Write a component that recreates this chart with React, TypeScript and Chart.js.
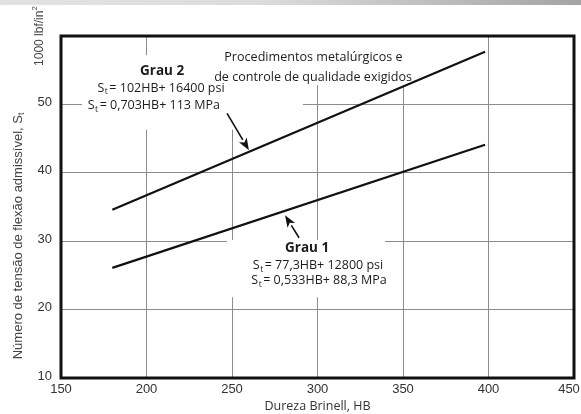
import React, { useEffect, useRef } from "react";
import { Chart, registerables } from "chart.js";

Chart.register(...registerables);

// ---- data ----
const hardness = [180, 398];
const grau2Values = [34.6, 57.7];
const grau1Values = [26.1, 44.1];
const xTickValues = [150, 200, 250, 300, 350, 400, 450];
const yTickValues = [10, 20, 30, 40, 50];
const xTitle = "Dureza Brinell, HB";
const yTitleMain = "Número de tensão de flexão admissível, S";
const yTitleUnit = "1000 lbf/in";
const procLines = ["Procedimentos metalúrgicos e", "de controle de qualidade exigidos"];
const grau2Label = "Grau 2";
const grau2Eqs = ["= 102HB+ 16400 psi", "= 0,703HB+ 113 MPa"];
const grau1Label = "Grau 1";
const grau1Eqs = ["= 77,3HB+ 12800 psi", "= 0,533HB+ 88,3 MPa"];

const ANNO_FONT = "'Open Sans', sans-serif";
const TICK_FONT = "'Liberation Sans', Arial, sans-serif";

function drawEq(ctx: CanvasRenderingContext2D, cx: number, cy: number, rest: string) {
  const big = `12.5px ${ANNO_FONT}`;
  const small = `8.5px ${ANNO_FONT}`;
  ctx.font = big;
  const wS = ctx.measureText("S").width;
  const wR = ctx.measureText(rest).width;
  ctx.font = small;
  const wT = ctx.measureText("t").width + 2;
  const total = wS + wT + wR;
  let x = cx - total / 2;
  ctx.textAlign = "left";
  ctx.textBaseline = "middle";
  ctx.font = big;
  ctx.fillText("S", x, cy);
  x += wS + 0.5;
  ctx.font = small;
  ctx.fillText("t", x, cy + 4);
  x += wT - 0.5;
  ctx.font = big;
  ctx.fillText(rest, x, cy);
}

function drawArrow(ctx: CanvasRenderingContext2D, x0: number, y0: number, x1: number, y1: number) {
  const ang = Math.atan2(y1 - y0, x1 - x0);
  const headLen = 12;
  const headW = 4.5;
  const bx = x1 - Math.cos(ang) * headLen;
  const by = y1 - Math.sin(ang) * headLen;
  ctx.strokeStyle = "#111";
  ctx.lineWidth = 1.6;
  ctx.beginPath();
  ctx.moveTo(x0, y0);
  ctx.lineTo(bx, by);
  ctx.stroke();
  ctx.fillStyle = "#111";
  ctx.beginPath();
  ctx.moveTo(x1, y1);
  ctx.lineTo(bx + Math.sin(ang) * headW, by - Math.cos(ang) * headW);
  ctx.lineTo(bx + Math.cos(ang) * 3, by + Math.sin(ang) * 3);
  ctx.lineTo(bx - Math.sin(ang) * headW, by + Math.cos(ang) * headW);
  ctx.closePath();
  ctx.fill();
}

const decorPlugin = {
  id: "decor",
  beforeDatasetsDraw(chart: any) {
    const { ctx } = chart;
    const xs = chart.scales.x;
    const ys = chart.scales.y;
    const box = (x0: number, x1: number, y0: number, y1: number) => {
      const px0 = xs.getPixelForValue(x0);
      const px1 = xs.getPixelForValue(x1);
      const py0 = ys.getPixelForValue(y0);
      const py1 = ys.getPixelForValue(y1);
      ctx.fillStyle = "#fff";
      ctx.fillRect(px0, py0, px1 - px0, py1 - py0);
    };
    ctx.save();
    box(244.2, 351.2, 60, 56.2);
    box(236.0, 357.6, 58.7, 52.8);
    box(162.3, 291.5, 57.2, 46.3);
    box(247.1, 339.5, 30.2, 21.8);
    ctx.restore();
  },
  afterDatasetsDraw(chart: any) {
    const { ctx, chartArea } = chart;
    const xs = chart.scales.x;
    const ys = chart.scales.y;
    const px = (v: number) => xs.getPixelForValue(v);
    const py = (v: number) => ys.getPixelForValue(v);
    ctx.save();
    // frame
    ctx.strokeStyle = "#111";
    ctx.lineWidth = 3;
    ctx.strokeRect(chartArea.left, chartArea.top, chartArea.right - chartArea.left, chartArea.bottom - chartArea.top);

    // arrows
    drawArrow(ctx, px(247.1), py(48.7), px(259.9), py(43.3));
    drawArrow(ctx, px(289.2), py(30.5), px(281.0), py(33.8));

    // annotation text
    ctx.fillStyle = "#1c1c1c";
    ctx.textAlign = "center";
    ctx.textBaseline = "middle";
    ctx.font = `12.6px ${ANNO_FONT}`;
    ctx.fillText(procLines[0], px(297.6), py(56.8));
    ctx.fillText(procLines[1], px(297.4), py(54.0));
    ctx.font = `bold 13.5px ${ANNO_FONT}`;
    ctx.fillText(grau2Label, px(209.1), py(54.9));
    ctx.fillText(grau1Label, px(293.9), py(29.0));
    drawEq(ctx, px(208.5), py(52.4), grau2Eqs[0]);
    drawEq(ctx, px(204.3), py(49.8), grau2Eqs[1]);
    drawEq(ctx, px(300.3), py(26.4), grau1Eqs[0]);
    drawEq(ctx, px(300.9), py(24.2), grau1Eqs[1]);
    ctx.restore();
  },
  afterDraw(chart: any) {
    const { ctx, chartArea } = chart;
    const xs = chart.scales.x;
    const ys = chart.scales.y;
    ctx.save();
    ctx.fillStyle = "#333";
    ctx.font = `13px ${TICK_FONT}`;
    // y tick labels
    ctx.textAlign = "right";
    ctx.textBaseline = "middle";
    yTickValues.forEach((v) => {
      ctx.fillText(String(v), chartArea.left - 9, ys.getPixelForValue(v) - 2);
    });
    // x tick labels
    ctx.textAlign = "center";
    ctx.textBaseline = "middle";
    xTickValues.forEach((v) => {
      const x = Math.min(xs.getPixelForValue(v), chart.width - 12);
      ctx.fillText(String(v), x, chartArea.bottom + 11);
    });
    // x title
    ctx.fillStyle = "#333";
    ctx.font = `12.5px ${ANNO_FONT}`;
    ctx.fillText(xTitle, (chartArea.left + chartArea.right) / 2, chartArea.bottom + 28);

    // y title (rotated)
    ctx.save();
    ctx.translate(18, 236);
    ctx.rotate(-Math.PI / 2);
    ctx.font = `13px ${TICK_FONT}`;
    ctx.fillStyle = "#444";
    const wMain = ctx.measureText(yTitleMain).width;
    ctx.font = `8.5px ${TICK_FONT}`;
    const wT = ctx.measureText("t").width;
    const tot = wMain + wT;
    ctx.textAlign = "left";
    ctx.textBaseline = "middle";
    ctx.font = `13px ${TICK_FONT}`;
    ctx.fillText(yTitleMain, -tot / 2, 0);
    ctx.font = `8.5px ${TICK_FONT}`;
    ctx.fillText("t", -tot / 2 + wMain, 4);
    ctx.restore();

    ctx.save();
    ctx.translate(40, 36);
    ctx.rotate(-Math.PI / 2);
    ctx.fillStyle = "#444";
    ctx.font = `12px ${TICK_FONT}`;
    const wU = ctx.measureText(yTitleUnit).width;
    ctx.font = `8px ${TICK_FONT}`;
    const w2 = ctx.measureText("2").width;
    ctx.textAlign = "left";
    ctx.textBaseline = "middle";
    ctx.font = `12px ${TICK_FONT}`;
    ctx.fillText(yTitleUnit, -(wU + w2) / 2, 0);
    ctx.font = `8px ${TICK_FONT}`;
    ctx.fillText("2", -(wU + w2) / 2 + wU, -5);
    ctx.restore();

    ctx.restore();
  },
};

export default function App() {
  const ref = useRef<HTMLCanvasElement>(null);
  useEffect(() => {
    if (!ref.current) return;
    const chart = new Chart(ref.current, {
      type: "scatter",
      data: {
        datasets: [
          {
            label: "Grau 2",
            data: hardness.map((x, i) => ({ x, y: grau2Values[i] })),
            showLine: true,
            borderColor: "#111",
            borderWidth: 2.2,
            pointRadius: 0,
          },
          {
            label: "Grau 1",
            data: hardness.map((x, i) => ({ x, y: grau1Values[i] })),
            showLine: true,
            borderColor: "#111",
            borderWidth: 2.2,
            pointRadius: 0,
          },
        ],
      },
      options: {
        responsive: false,
        animation: false,
        layout: { padding: { left: 61, right: 7, top: 36, bottom: 36 } },
        plugins: { legend: { display: false }, tooltip: { enabled: false } },
        scales: {
          x: {
            type: "linear",
            min: 150,
            max: 450,
            ticks: { display: false, stepSize: 50 },
            grid: { color: "#8c8c8c", lineWidth: 1, drawTicks: false },
            border: { display: false },
            afterFit: (s: any) => {
              s.height = 0;
            },
          },
          y: {
            type: "linear",
            min: 10,
            max: 60,
            ticks: { display: false, stepSize: 10 },
            grid: { color: "#8c8c8c", lineWidth: 1, drawTicks: false },
            border: { display: false },
            afterFit: (s: any) => {
              s.width = 0;
            },
          },
        },
      },
      plugins: [decorPlugin],
    } as any);
    return () => chart.destroy();
  }, []);

  return (
    <div style={{ position: "absolute", left: 0, top: 0, width: 581, height: 414, background: "#fff" }}>
      <div
        style={{
          position: "absolute",
          left: 0,
          top: 0,
          width: 581,
          height: 5,
          background: "linear-gradient(to right, #e2e2e2 0%, #dcdcdc 45%, #a4a4a4 100%)",
        }}
      />
      <canvas ref={ref} width={581} height={414} style={{ display: "block", width: 581, height: 414 }} />
    </div>
  );
}
